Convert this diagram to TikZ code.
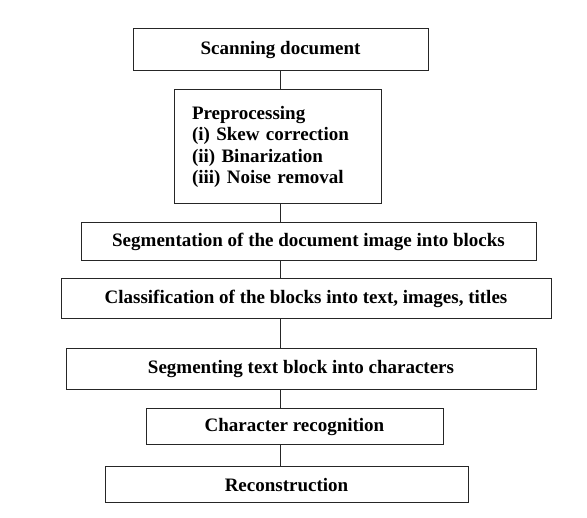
\documentclass[tikz,border=0pt]{standalone}
\usepackage{fontspec}
\setmainfont{Liberation Serif}
\begin{document}
\begin{tikzpicture}[x=1pt,y=-1pt,
  stage/.style={draw=black!85, line width=1pt, inner sep=0pt, font=\fontsize{19}{21.3}\selectfont\bfseries, align=center},
  link/.style={draw=black!85, line width=0.9pt}]
\useasboundingbox (0,0) rectangle (587,518);
\node[stage, minimum width=295pt, minimum height=42pt] (b1) at (280.5,50) {Scanning document};
\node[stage, minimum width=207pt, minimum height=114pt, text width=171pt, align=left, inner xsep=18pt] (b2) at (277.5,147) {Preprocessing\\(i) Skew correction\\(ii) Binarization\\(iii) Noise removal};
\node[stage, minimum width=455pt, minimum height=38pt] (b3) at (308.5,242) {Segmentation of the document image into blocks};
\node[stage, minimum width=490pt, minimum height=40pt] (b4) at (306,299) {Classification of the blocks into text, images, titles};
\node[stage, minimum width=470pt, minimum height=41pt] (b5) at (301,369.5) {Segmenting text block into characters};
\node[stage, minimum width=297pt, minimum height=36pt] (b6) at (294.5,427) {Character recognition};
\node[stage, minimum width=363pt, minimum height=36pt] (b7) at (286.5,485) {Reconstruction};
\coordinate (spine) at (280,0);
\foreach \a/\b in {b1/b2,b2/b3,b3/b4,b4/b5,b5/b6,b6/b7}
  \draw[link] (\a.south -| spine) -- (\b.north -| spine);
\end{tikzpicture}
\end{document}
